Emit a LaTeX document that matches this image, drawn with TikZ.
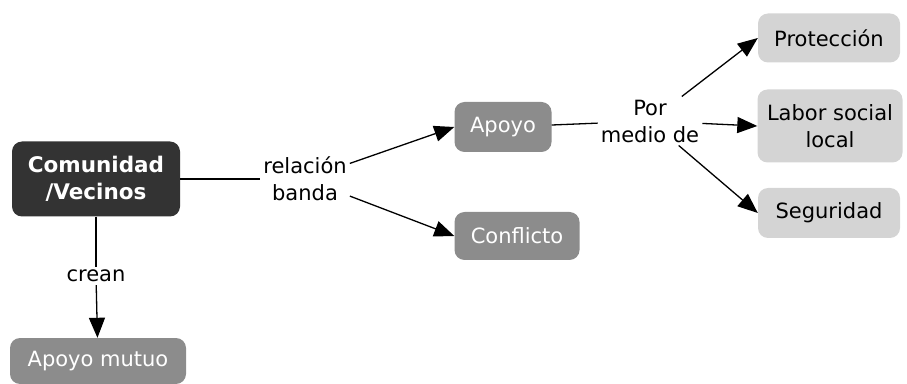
\documentclass[tikz,border=0pt]{standalone}
\usepackage{fontspec}
\setmainfont{DejaVu Sans}
\usetikzlibrary{arrows.meta}

\begin{document}
\begin{tikzpicture}[x=1pt,y=1pt,
  font=\fontsize{21}{27}\selectfont,
  concept/.style={rounded corners=10pt,align=center,inner sep=0pt},
  dark/.style={concept,fill=black!80,text=white,font=\fontsize{21.5}{27}\selectfont\bfseries},
  mid/.style={concept,fill=black!45,text=white},
  light/.style={concept,fill=black!17,text=black},
  link/.style={align=center,inner sep=3pt},
  arr/.style={line width=1.3pt,-{Triangle[length=20pt,width=16pt]}},
  ln/.style={line width=1.3pt}]
\useasboundingbox (0,0) rectangle (907,383);

\node[dark,minimum width=168pt,minimum height=75pt] (com) at (96,204) {Comunidad\\/Vecinos};
\node[mid,minimum width=97pt,minimum height=50pt] (apoyo) at (503,256) {Apoyo};
\node[mid,minimum width=125pt,minimum height=48pt] (conf) at (517,147) {Conflicto};
\node[mid,minimum width=176pt,minimum height=46pt] (mutuo) at (98,22) {Apoyo mutuo};
\node[light,minimum width=142pt,minimum height=49pt] (prot) at (829,345) {Protección};
\node[light,minimum width=145pt,minimum height=73pt] (labor) at (830,257) {Labor social\\local};
\node[light,minimum width=142pt,minimum height=50pt] (seg) at (829,170) {Seguridad};

\node[link] (rel) at (305,204) {relación\\banda};
\node[link] (por) at (650,262) {Por\\medio de};
\node[link,fill=white] (crean) at (96,107) {crean};

\draw[ln] (com) -- (rel);
\draw[arr] (rel) -- (apoyo.west);
\draw[arr] (rel) -- (conf.west);
\draw[ln] (apoyo) -- (por);
\draw[arr] (por) -- (prot.west);
\draw[arr] (por) -- (labor.west);
\draw[arr] (por) -- (seg.west);
\draw[ln] (com) -- (crean);
\draw[arr] (crean) -- (mutuo);
\end{tikzpicture}
\end{document}
